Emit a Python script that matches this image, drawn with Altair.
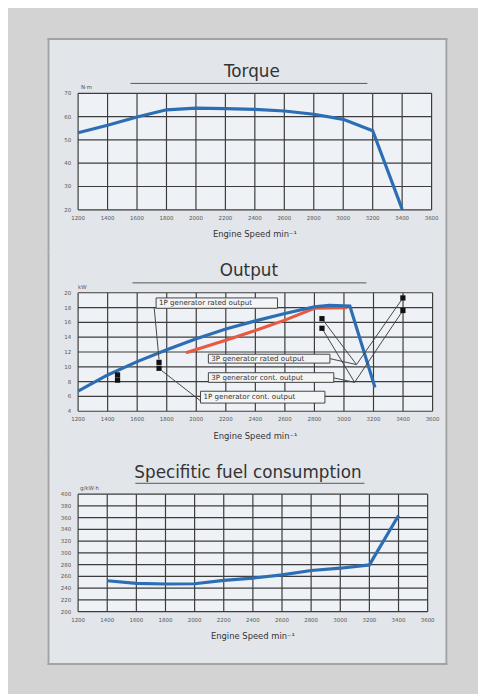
import altair as alt
import pandas as pd

# ---------------- data ----------------
rpm_ticks = [1200, 1400, 1600, 1800, 2000, 2200, 2400, 2600, 2800, 3000, 3200, 3400, 3600]
torque_ticks = [20, 30, 40, 50, 60, 70]
output_ticks = [4, 6, 8, 10, 12, 14, 16, 18, 20]
fuel_ticks = [200, 220, 240, 260, 280, 300, 320, 340, 360, 380, 400]

torque_rpm = [1200, 1400, 1600, 1800, 2000, 2200, 2400, 2600, 2800, 3000, 3200, 3400]
torque_nm = [53.1, 56.3, 59.8, 62.9, 63.6, 63.4, 63.1, 62.4, 61.0, 58.8, 53.9, 20.3]

out_blue_rpm = [1200, 1400, 1600, 1800, 2000, 2200, 2400, 2600, 2800, 2900, 3040, 3210]
out_blue_kw = [6.7, 8.9, 10.7, 12.3, 13.8, 15.1, 16.2, 17.2, 18.1, 18.3, 18.2, 7.2]

out_red_rpm = [1930, 2200, 2400, 2600, 2800, 3020]
out_red_kw = [11.9, 13.6, 14.9, 16.3, 17.9, 18.0]

marker_rpm = [1467, 1467, 1748, 1748, 2851, 2851, 3399, 3399]
marker_kw = [8.9, 8.2, 10.6, 9.8, 16.5, 15.2, 19.3, 17.6]

box_labels = ["1P generator rated output", "3P generator rated output",
              "3P generator cont. output", "1P generator cont. output"]
box_rpm1 = [1728, 2082, 2082, 2029]
box_rpm2 = [2550, 2905, 2931, 2871]
box_kw1 = [19.3, 11.7, 9.2, 6.7]
box_kw2 = [17.9, 10.5, 7.9, 5.1]

leader_rpm1 = [1715, 1765, 2851, 3085, 2905, 2851, 3072, 2931]
leader_kw1 = [18.0, 9.5, 16.5, 10.3, 11.1, 15.2, 7.9, 8.5]
leader_rpm2 = [1748, 2029, 3085, 3399, 3085, 3072, 3399, 3072]
leader_kw2 = [11.0, 5.4, 10.3, 19.3, 10.3, 7.9, 17.6, 7.9]

fuel_rpm = [1400, 1600, 1800, 2000, 2200, 2400, 2600, 2800, 3000, 3200, 3400]
fuel_g = [252.7, 248.2, 247.1, 247.6, 253.2, 257.1, 262.7, 270.0, 274.0, 279.6, 363.6]

# ---------------- style ----------------
OUTER = "#d3d3d3"
PANEL = "#e2e5e9"
PLOT = "#eef2f6"
GRID = "#3c3c3c"
BORDER = "#a3a3a3"
BLUE = "#2c6db3"
RED = "#e65a3f"
FONT = "DejaVu Sans"
PL = 31
GAP = 84  # distance between consecutive plot areas

one = pd.DataFrame({"k": [0]})


def frame(w, h, pr, pt, pb, ydom, yticks, title, tx, u1, u2, ty, uy,
          unit, ux, top=False, bottom=False):
    pl = PL
    xs = alt.Scale(domain=[1200, 3600], nice=False, zero=False)
    ys = alt.Scale(domain=ydom, nice=False, zero=False)
    xdf = pd.DataFrame({"rpm": rpm_ticks, "lab": [str(v) for v in rpm_ticks]})
    ydf = pd.DataFrame({"v": yticks, "lab": [str(v) for v in yticks]})
    layers = []
    layers.append(alt.Chart(one).mark_rect(color=PANEL).encode(
        x=alt.value(-pl), x2=alt.value(w + pr), y=alt.value(-pt), y2=alt.value(h + pb)))
    layers.append(alt.Chart(one).mark_rule(color=BORDER, strokeWidth=2).encode(
        x=alt.value(-pl + 1), y=alt.value(-pt), y2=alt.value(h + pb)))
    layers.append(alt.Chart(one).mark_rule(color=BORDER, strokeWidth=2).encode(
        x=alt.value(w + pr - 1), y=alt.value(-pt), y2=alt.value(h + pb)))
    if top:
        layers.append(alt.Chart(one).mark_rule(color=BORDER, strokeWidth=2).encode(
            x=alt.value(-pl), x2=alt.value(w + pr), y=alt.value(-pt + 1)))
    if bottom:
        layers.append(alt.Chart(one).mark_rule(color=BORDER, strokeWidth=2).encode(
            x=alt.value(-pl), x2=alt.value(w + pr), y=alt.value(h + pb - 1)))
    layers.append(alt.Chart(one).mark_rect(color=PLOT).encode(
        x=alt.value(0), x2=alt.value(w), y=alt.value(0), y2=alt.value(h)))
    # grid
    layers.append(alt.Chart(xdf).mark_rule(color=GRID, strokeWidth=1.2).encode(
        x=alt.X("rpm:Q", scale=xs, axis=None)))
    layers.append(alt.Chart(ydf).mark_rule(color=GRID, strokeWidth=1.2).encode(
        y=alt.Y("v:Q", scale=ys, axis=None)))
    # tick labels
    layers.append(alt.Chart(xdf).mark_text(font=FONT, fontSize=5.5, color="#555555",
                                           align="center", baseline="middle").encode(
        x=alt.X("rpm:Q", scale=xs, axis=None), y=alt.value(h + 8), text="lab:N"))
    layers.append(alt.Chart(ydf).mark_text(font=FONT, fontSize=5.5, color="#555555",
                                           align="right", baseline="middle").encode(
        y=alt.Y("v:Q", scale=ys, axis=None), x=alt.value(-7), text="lab:N"))
    # axis title
    layers.append(alt.Chart(one).mark_text(
        text="Engine Speed min⁻¹", font=FONT, fontSize=8.5, color="#333333",
        align="center", baseline="middle").encode(x=alt.value(w / 2), y=alt.value(h + 25)))
    # chart title + underline + unit
    layers.append(alt.Chart(one).mark_text(
        text=title, font=FONT, fontSize=17, color="#333333", align="center",
        baseline="alphabetic").encode(x=alt.value(tx), y=alt.value(ty)))
    layers.append(alt.Chart(one).mark_rule(color="#555555", strokeWidth=1).encode(
        x=alt.value(u1), x2=alt.value(u2), y=alt.value(uy)))
    layers.append(alt.Chart(one).mark_text(
        text=unit, font=FONT, fontSize=5.5, color="#555555", align="left",
        baseline="alphabetic").encode(x=alt.value(ux), y=alt.value(-4)))
    return layers, xs, ys


# ---------------- torque ----------------
tl, xs, ys = frame(358, 118, 16, 56, 45, [20, 70], torque_ticks, "Torque",
                   176, 53, 293, -17, -10, "N·m", 3, top=True)
tdf = pd.DataFrame({"rpm": torque_rpm, "val": torque_nm})
tl.append(alt.Chart(tdf).mark_line(color=BLUE, strokeWidth=3.2).encode(
    x=alt.X("rpm:Q", scale=xs, axis=None), y=alt.Y("val:Q", scale=ys, axis=None)))
torque = alt.layer(*tl).properties(width=358, height=118)

# ---------------- output ----------------
ol, xs, ys = frame(359, 120, 15, GAP - 43, 42, [4, 20], output_ticks, "Output",
                   173, 55, 292, -17, -10, "kW", 0)
bdf = pd.DataFrame({"rpm": out_blue_rpm, "val": out_blue_kw})
rdf = pd.DataFrame({"rpm": out_red_rpm, "val": out_red_kw})
ol.append(alt.Chart(rdf).mark_line(color=RED, strokeWidth=3.2).encode(
    x=alt.X("rpm:Q", scale=xs, axis=None), y=alt.Y("val:Q", scale=ys, axis=None)))
ol.append(alt.Chart(bdf).mark_line(color=BLUE, strokeWidth=3.2).encode(
    x=alt.X("rpm:Q", scale=xs, axis=None), y=alt.Y("val:Q", scale=ys, axis=None)))
ldf = pd.DataFrame({"x1": leader_rpm1, "y1": leader_kw1, "x2": leader_rpm2, "y2": leader_kw2})
ol.append(alt.Chart(ldf).mark_rule(color="#444444", strokeWidth=1).encode(
    x=alt.X("x1:Q", scale=xs, axis=None), y=alt.Y("y1:Q", scale=ys, axis=None),
    x2="x2:Q", y2="y2:Q"))
boxdf = pd.DataFrame({"label": box_labels, "x1": box_rpm1, "x2": box_rpm2,
                      "y1": box_kw1, "y2": box_kw2,
                      "ym": [(a + b) / 2 for a, b in zip(box_kw1, box_kw2)]})
ol.append(alt.Chart(boxdf).mark_rect(fill="#f3f4f6", stroke="#444444", strokeWidth=1).encode(
    x=alt.X("x1:Q", scale=xs, axis=None), x2="x2:Q",
    y=alt.Y("y1:Q", scale=ys, axis=None), y2="y2:Q"))
ol.append(alt.Chart(boxdf).mark_text(font=FONT, fontSize=7.2, color="#333333",
                                     align="left", baseline="middle", dx=3).encode(
    x=alt.X("x1:Q", scale=xs, axis=None), y=alt.Y("ym:Q", scale=ys, axis=None),
    text="label:N"))
mdf = pd.DataFrame({"rpm": marker_rpm, "val": marker_kw})
ol.append(alt.Chart(mdf).mark_point(shape="square", filled=True, color="#111111",
                                    size=28, opacity=1).encode(
    x=alt.X("rpm:Q", scale=xs, axis=None), y=alt.Y("val:Q", scale=ys, axis=None)))
output = alt.layer(*ol).properties(width=359, height=120)

# ---------------- fuel ----------------
fl, xs, ys = frame(354, 119, 20, GAP - 40, 54, [200, 400], fuel_ticks,
                   "Specifitic fuel consumption", 172, 58, 290, -16, -11, "g/kW·h", 2,
                   bottom=True)
fdf = pd.DataFrame({"rpm": fuel_rpm, "val": fuel_g})
fl.append(alt.Chart(fdf).mark_line(color=BLUE, strokeWidth=3.2).encode(
    x=alt.X("rpm:Q", scale=xs, axis=None), y=alt.Y("val:Q", scale=ys, axis=None)))
fuel = alt.layer(*fl).properties(width=354, height=119)

chart = alt.vconcat(torque, output, fuel, spacing=GAP, bounds="flush").properties(
    background=OUTER,
    padding={"left": 39, "top": 25, "right": 30, "bottom": 24},
).configure_view(strokeWidth=0)

chart.save("out.html", embed_options={"renderer": "svg", "actions": False})
